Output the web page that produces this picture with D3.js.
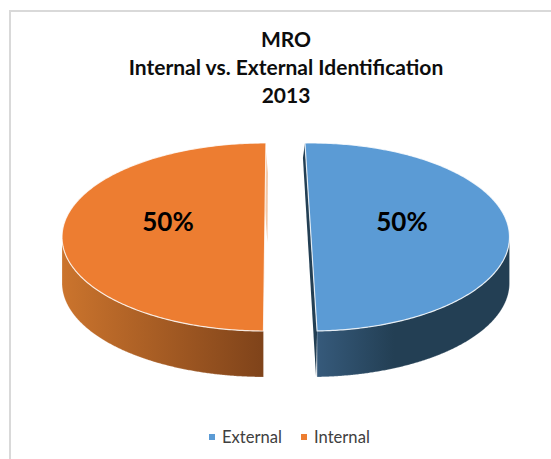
<!DOCTYPE html>
<html><head><meta charset="utf-8">
<script src="https://cdn.jsdelivr.net/npm/d3@7"></script>
<style>html,body{margin:0;padding:0;background:#fff}svg{display:block}</style>
</head><body><div id="c"></div>
<script>
const categories = ["External", "Internal"];
const seriesValues = [50, 50];
const colors = ["#5b9bd5", "#ed7d31"];
const titleLines = ["MRO", "Internal vs. External Identification", "2013"];

const W = 551, H = 459;
const FONT = "Lato, Carlito, sans-serif";
const svg = d3.select("#c").append("svg").attr("width", W).attr("height", H);
svg.append("rect").attr("width", W).attr("height", H).attr("fill", "#fff");
svg.append("path").attr("d", `M10,${H}V11H${W}`).attr("fill","none").attr("stroke","#d9d9d9").attr("stroke-width",2);

const title = svg.append("g").attr("font-family",FONT).attr("font-weight",700)
  .attr("font-size",21).attr("fill","#0d0d0d").attr("text-anchor","middle");
titleLines.forEach((t,i)=>title.append("text").attr("x",286).attr("y",47+i*28).text(t));

const defs = svg.append("defs");
const gExt = defs.append("linearGradient").attr("id","gExternal");
gExt.append("stop").attr("offset",0).attr("stop-color","#365a7b");
gExt.append("stop").attr("offset",0.4).attr("stop-color","#233f54");
gExt.append("stop").attr("offset",1).attr("stop-color","#233f54");
const gInt = defs.append("linearGradient").attr("id","gInternal");
gInt.append("stop").attr("offset",0).attr("stop-color","#cb742d");
gInt.append("stop").attr("offset",1).attr("stop-color","#7f431a");

const pie = d3.pie().sort(null).value(d=>d);
const arcs = pie(seriesValues);
const ry = 94, depth = 46, cy = 237;
const layout = [
  {cx:311, rx:198.5, rot:-1.75*Math.PI/180, grad:"url(#gExternal)", label:402, side:"#233f54"},
  {cx:264.7, rx:202.7, rot:0.35*Math.PI/180, grad:"url(#gInternal)", label:168, side:"#f3c9a9"}
];
const pt = (l,a)=>[l.cx + l.rx*Math.sin(a), cy - ry*Math.cos(a)];

function rim(l, a0, a1, dy){
  const n = 240, out = [];
  for(let i=0;i<=n;i++){ const a=a0+(a1-a0)*i/n; const p=pt(l,a); out.push([p[0],p[1]+dy]); }
  return out;
}
const line = d3.line();

arcs.forEach((d,i)=>{
  const l = layout[i], a0=d.startAngle+l.rot, a1=d.endAngle+l.rot;
  const g = svg.append("g");
  const vis0 = i===0 ? Math.PI/2 : a0, vis1 = i===0 ? a1 : 3*Math.PI/2;
  const top = rim(l,vis0,vis1,0), bot = rim(l,vis0,vis1,depth).reverse();
  g.append("path").attr("d",line(top.concat(bot))+"Z").attr("fill",l.grad)
    .attr("stroke","#fff").attr("stroke-opacity",0.35).attr("stroke-width",0.6);
  const pT = pt(l,i===0?a0:a1), pB = pt(l,i===0?a1:a0);
  const cut = i===0
    ? [pT,[pT[0]-2,pT[1]+15],[pB[0]-1,pB[1]+depth],pB]
    : [[pT[0],pT[1]+8],[pT[0]+2,pT[1]+30],[pT[0]+1.5,pB[1]-88],[pB[0]+1,pT[1]+60]];
  g.append("path").attr("d",line(cut)+"Z").attr("fill",l.side);
  g.append("path").attr("d",line(rim(l,a0,a1,0))+"Z").attr("fill",colors[i])
    .attr("stroke","#fff").attr("stroke-opacity",0.8).attr("stroke-width",1.2).attr("stroke-linejoin","round");
  svg.append("text").attr("x",l.label).attr("y",231).attr("text-anchor","middle")
    .attr("font-family",FONT).attr("font-weight",700).attr("font-size",26).attr("fill","#000")
    .text(d.data+"%");
});

const legendX = [{sq:209,tx:222},{sq:301,tx:314}];
const lg = svg.append("g");
categories.forEach((c,i)=>{
  lg.append("rect").attr("x",legendX[i].sq).attr("y",434).attr("width",6).attr("height",6).attr("fill",colors[i]);
  lg.append("text").attr("x",legendX[i].tx).attr("y",442.5).attr("font-family",FONT)
    .attr("font-size",16.6).attr("fill","#404040").text(c);
});
</script></body></html>
